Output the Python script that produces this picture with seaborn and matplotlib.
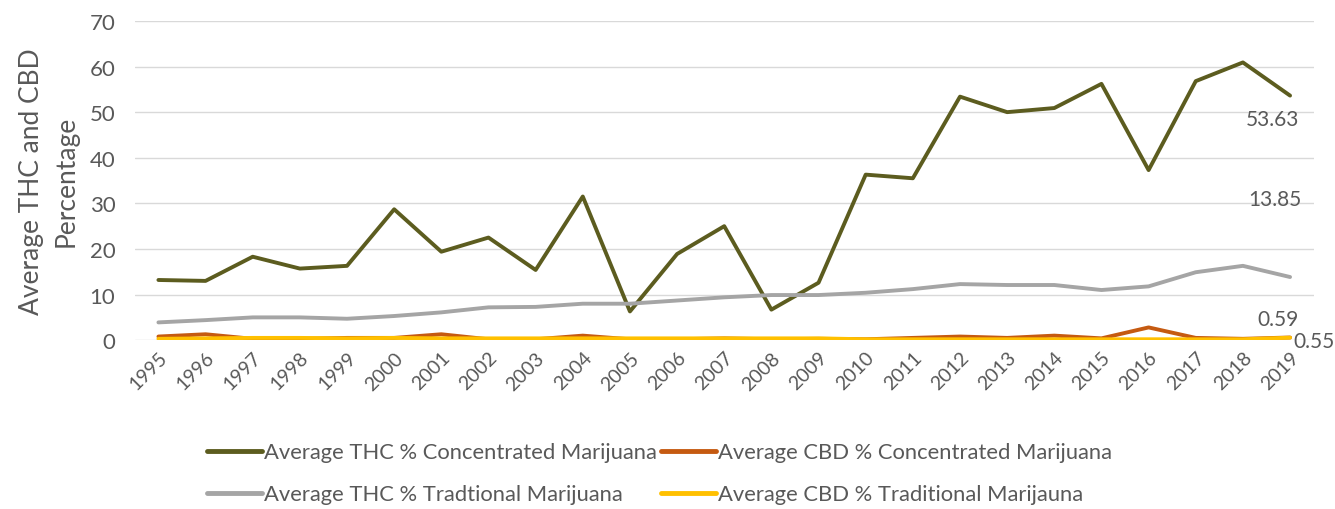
import numpy as np
import pandas as pd
import matplotlib
matplotlib.use('Agg')
import matplotlib.pyplot as plt
import seaborn as sns

years = list(range(1995, 2020))

thc_conc = [13.2, 13.0, 18.3, 15.7, 16.3, 28.7, 19.4, 22.5, 15.4, 31.5, 6.3, 18.9, 25.0,
            6.7, 12.6, 36.3, 35.5, 53.4, 50.0, 50.9, 56.2, 37.3, 56.8, 60.9, 53.63]
cbd_conc = [0.8, 1.3, 0.3, 0.3, 0.5, 0.5, 1.3, 0.2, 0.2, 1.0, 0.2, 0.2, 0.4,
            0.2, 0.3, 0.2, 0.5, 0.8, 0.5, 1.0, 0.4, 2.8, 0.5, 0.3, 0.59]
thc_trad = [3.9, 4.4, 5.0, 5.0, 4.7, 5.3, 6.1, 7.2, 7.3, 8.0, 8.0, 8.7, 9.4,
            9.9, 9.9, 10.4, 11.2, 12.3, 12.1, 12.1, 11.0, 11.8, 14.9, 16.3, 13.85]
cbd_trad = [0.3, 0.4, 0.5, 0.5, 0.4, 0.5, 0.4, 0.4, 0.4, 0.4, 0.4, 0.4, 0.4,
            0.4, 0.4, 0.2, 0.2, 0.2, 0.2, 0.2, 0.2, 0.2, 0.2, 0.2, 0.55]

series_names = ['Average THC % Concentrated Marijuana',
                'Average CBD % Concentrated Marijuana',
                'Average THC % Tradtional Marijuana',
                'Average CBD % Traditional Marijauna']
colors = ['#5c5c1f', '#c55a11', '#a5a5a5', '#ffc000']

frames = []
for name, vals in zip(series_names, [thc_conc, cbd_conc, thc_trad, cbd_trad]):
    frames.append(pd.DataFrame({'pos': range(len(years)), 'value': vals, 'series': name}))
df = pd.concat(frames, ignore_index=True)

sns.set_style('white')
plt.rcParams['font.family'] = ['Lato', 'DejaVu Sans']
grey_txt = '#595959'

fig = plt.figure(figsize=(13.35, 5.1), dpi=100)
ax = fig.add_axes([0.101, 0.331, 0.883, 0.626])

sns.lineplot(data=df, x='pos', y='value', hue='series', hue_order=series_names,
             palette=colors, linewidth=2.8, ax=ax, legend=False)
for line in ax.lines:
    line.set_solid_capstyle('round')

ax.set_xlim(-0.5, len(years) - 0.5)
ax.set_ylim(0, 70)
ax.set_yticks(np.arange(0, 71, 10))
ax.set_xticks(range(len(years)))
ax.set_xticklabels([str(y) for y in years], rotation=45, ha='right', rotation_mode='anchor')
ax.tick_params(axis='x', labelsize=14, colors=grey_txt, length=0, pad=6)
ax.tick_params(axis='y', labelsize=16, colors=grey_txt, length=0, pad=14)
ax.grid(axis='y', color='#d9d9d9', linewidth=1)
ax.set_axisbelow(True)
sns.despine(ax=ax, left=True, bottom=True, top=True, right=True)

ax.set_xlabel('')
ax.set_ylabel('Average THC and CBD\nPercentage', fontsize=19, color=grey_txt,
              labelpad=8, linespacing=1.45)

# data labels on the last year, placed like the Excel original
last = len(years) - 1
label_specs = [(thc_conc[-1], (-18, -23), 'center'),
               (thc_trad[-1], (-15, 78), 'center'),
               (cbd_conc[-1], (-12, 18), 'center'),
               (cbd_trad[-1], (3, -3), 'left')]
for val, off, ha in label_specs:
    ax.annotate('{:.2f}'.format(val), (last, val), xytext=off, textcoords='offset pixels',
                fontsize=15, color=grey_txt, ha=ha, va='center', annotation_clip=False)

# legend, row-wise order
order = [0, 2, 1, 3]
handles = [plt.Line2D([0], [0], color=colors[i], linewidth=3.5) for i in order]
labels = [series_names[i] for i in order]
leg = fig.legend(handles, labels, loc='center', bbox_to_anchor=(0.494, 0.07), ncol=2,
                 frameon=False, fontsize=15.8, handlelength=2.5, handletextpad=0.1,
                 columnspacing=0.2, labelspacing=1.0)
for t in leg.get_texts():
    t.set_color(grey_txt)

fig.savefig('out.png', dpi=100)
